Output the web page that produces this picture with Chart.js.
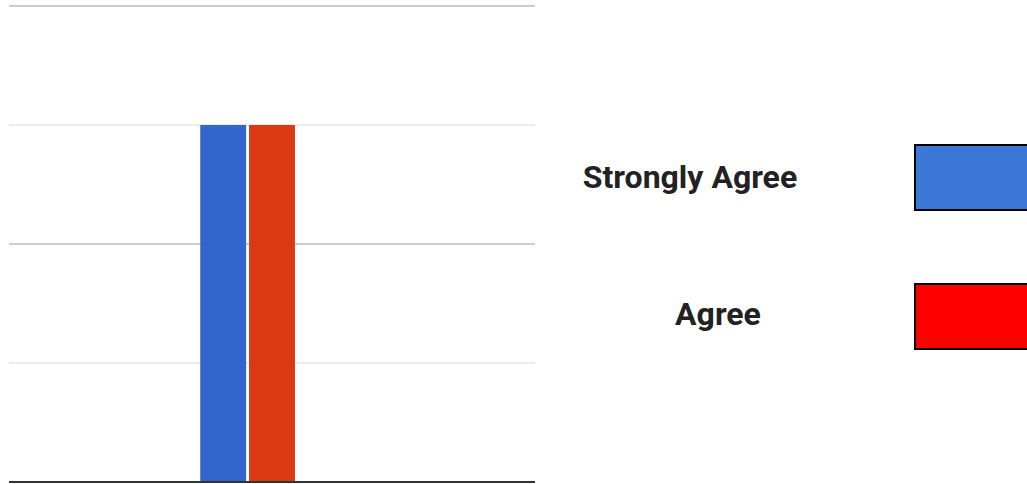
<!DOCTYPE html>
<html>
<head>
<meta charset="utf-8">
<script src="https://cdn.jsdelivr.net/npm/chart.js@4.4.1/dist/chart.umd.min.js"></script>
<style>
    html, body { margin: 0; padding: 0; background: #fff; overflow: hidden; }
    #wrap { position: relative; width: 1027px; height: 484px; }
    #chartBox { position: absolute; left: 0; top: 0; width: 535px; height: 484px; }
    .lbl { position: absolute; transform: translate(-50%, -50%); font-family: Roboto, sans-serif; font-weight: bold; font-size: 32px; color: #222; white-space: nowrap; }
    .swatch { position: absolute; left: 914px; width: 130px; height: 63px; border: 2.5px solid #000; }
</style>
</head>
<body>
<div id="wrap">
    <div id="chartBox"><canvas id="myChart"></canvas></div>
</div>
<script>
// data
const categories = [""];
const seriesNames = ["Strongly Agree", "Agree", ""];
const strongAgree = [3];
const agree = [3];
const emptySeries = [null];
const yTicks = [0, 1, 2, 3, 4];

const barColors = ["#3366cc", "#dc3912"];
const legendColors = ["#3c78d8", "#ff0000"];

// legend on the right (html)
const legendPos = [{ x: 690, y: 177, top: 144 }, { x: 718, y: 314, top: 283 }];
for (let i = 0; i < 2; i++) {
    let t = document.createElement('div');
    t.className = 'lbl';
    t.style.left = legendPos[i].x + 'px';
    t.style.top = legendPos[i].y + 'px';
    t.innerText = seriesNames[i];
    document.getElementById('wrap').appendChild(t);

    let b = document.createElement('div');
    b.className = 'swatch';
    b.style.top = legendPos[i].top + 'px';
    b.style.background = legendColors[i];
    document.getElementById('wrap').appendChild(b);
}

var ctx = document.getElementById('myChart').getContext("2d");
new Chart(ctx, {
    type: 'bar',
    data: {
        labels: categories,
        datasets: [{
            label: seriesNames[0],
            data: strongAgree,
            backgroundColor: barColors[0],
            categoryPercentage: 0.2784,
            barPercentage: 0.94
        }, {
            label: seriesNames[1],
            data: agree,
            backgroundColor: barColors[1],
            categoryPercentage: 0.2784,
            barPercentage: 0.94
        }, {
            label: seriesNames[2],
            data: emptySeries,
            backgroundColor: "#999",
            categoryPercentage: 0.2784,
            barPercentage: 0.94
        }]
    },
    options: {
        responsive: true,
        maintainAspectRatio: false,
        animation: false,
        layout: { padding: { left: 9, right: 0, top: 6, bottom: 2 } },
        plugins: {
            legend: { display: false },
            tooltip: { enabled: false }
        },
        scales: {
            x: {
                display: false
            },
            y: {
                min: yTicks[0],
                max: yTicks[yTicks.length - 1],
                afterBuildTicks: axis => { axis.ticks = yTicks.map(v => ({ value: v })); },
                ticks: { display: false },
                border: { display: false },
                grid: {
                    drawTicks: false,
                    color: c => c.tick.value == 0 ? "#333" : (c.tick.value % 2 == 0 ? "#cccccc" : "#ebebeb"),
                    lineWidth: 2
                }
            }
        }
    }
});
</script>
</body>
</html>
